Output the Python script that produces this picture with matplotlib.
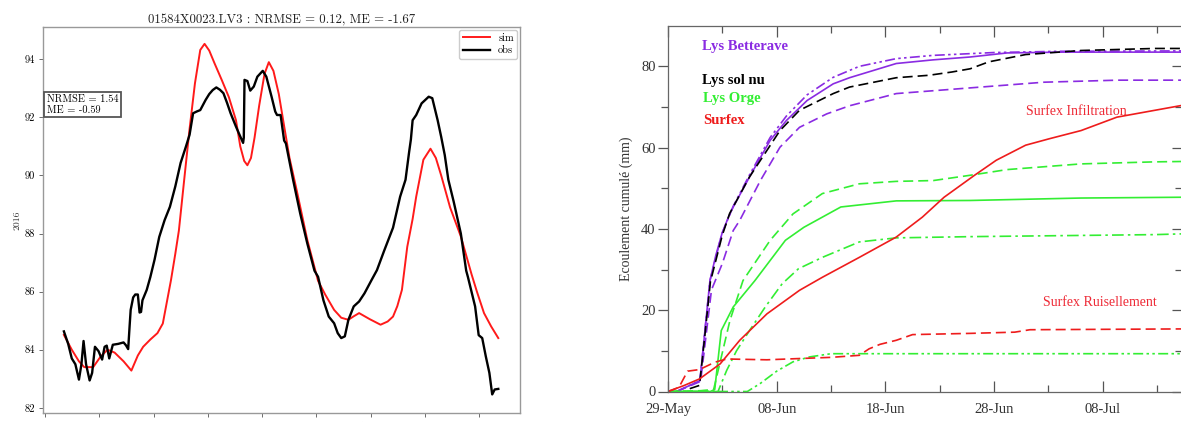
import matplotlib
matplotlib.use("Agg")
import matplotlib.pyplot as plt
import numpy as np

plt.rcParams['axes.unicode_minus'] = False

# ---------------- Left panel data (x in tick units) ----------------
left_title = "01584X0023.LV3 : NRMSE = 0.12, ME = -1.67"
left_ylabel = "2016"
left_yticks = [82, 84, 86, 88, 90, 92, 94]
left_xtick_labels = ["2016-01", "2016-02", "2016-03", "2016-04", "2016-05",
                     "2016-06", "2016-07", "2016-08", "2016-09"]
left_box_text = "NRMSE = 1.54\nME = -0.59"

sim_x = [0.348, 0.493, 0.625, 0.723, 0.888, 1.019, 1.151, 1.282, 1.447, 1.591,
         1.710, 1.808, 1.940, 2.071, 2.170, 2.321, 2.400, 2.466, 2.564, 2.663,
         2.762, 2.860, 2.939, 3.025, 3.123, 3.255, 3.386, 3.518, 3.597, 3.669,
         3.728, 3.794, 3.860, 3.945, 4.044, 4.123, 4.208, 4.307, 4.405, 4.504,
         4.635, 4.833, 5.030, 5.161, 5.326, 5.457, 5.589, 5.687, 5.786, 5.983,
         6.181, 6.312, 6.411, 6.490, 6.575, 6.673, 6.772, 6.838, 6.970, 7.101,
         7.200, 7.298, 7.462, 7.660, 7.857, 7.956, 8.087, 8.219, 8.350]
sim_y = [84.51, 84.0, 83.6, 83.4, 83.4, 83.75, 84.0, 83.9, 83.6, 83.28,
         83.8, 84.1, 84.35, 84.57, 84.9, 86.4, 87.3, 88.1, 89.85, 91.6,
         93.17, 94.32, 94.53, 94.3, 93.86, 93.29, 92.7, 91.9, 91.0, 90.5,
         90.35, 90.6, 91.3, 92.4, 93.5, 93.9, 93.6, 92.8, 91.7, 90.6,
         89.5, 87.77, 86.37, 85.9, 85.37, 85.1, 85.03, 85.15, 85.26, 85.05,
         84.86, 84.97, 85.14, 85.5, 86.06, 87.54, 88.5, 89.27, 90.54, 90.92,
         90.6, 90.0, 88.9, 87.9, 86.6, 86.0, 85.26, 84.8, 84.4]

obs_x = [0.348, 0.427, 0.493, 0.559, 0.625, 0.671, 0.710, 0.756, 0.822, 0.868,
         0.920, 0.986, 1.052, 1.098, 1.137, 1.183, 1.249, 1.348, 1.447, 1.492,
         1.532, 1.558, 1.578, 1.624, 1.663, 1.710, 1.742, 1.769, 1.795, 1.874,
         1.940, 2.018, 2.104, 2.203, 2.301, 2.400, 2.498, 2.597, 2.663, 2.728,
         2.794, 2.860, 2.959, 3.025, 3.090, 3.156, 3.222, 3.287, 3.353, 3.419,
         3.518, 3.583, 3.649, 3.662, 3.675, 3.728, 3.781, 3.846, 3.912, 4.011,
         4.077, 4.175, 4.241, 4.274, 4.340, 4.405, 4.438, 4.570, 4.701, 4.833,
         4.964, 5.030, 5.129, 5.227, 5.326, 5.392, 5.457, 5.523, 5.589, 5.687,
         5.786, 5.885, 6.016, 6.115, 6.246, 6.411, 6.542, 6.641, 6.707, 6.740,
         6.772, 6.838, 6.937, 7.068, 7.134, 7.233, 7.298, 7.364, 7.430, 7.528,
         7.660, 7.759, 7.791, 7.923, 7.989, 8.054, 8.120, 8.186, 8.238, 8.284,
         8.350]
obs_y = [84.63, 84.2, 83.7, 83.5, 82.97, 83.5, 84.3, 83.5, 82.94, 83.2,
         84.1, 83.95, 83.66, 84.1, 84.14, 83.7, 84.17, 84.2, 84.25, 84.15,
         84.02, 84.8, 85.37, 85.8, 85.9, 85.9, 85.28, 85.3, 85.7, 86.06,
         86.5, 87.1, 87.88, 88.46, 88.92, 89.62, 90.43, 91.0, 91.4, 92.14,
         92.2, 92.25, 92.6, 92.8, 92.94, 93.03, 92.95, 92.83, 92.5, 92.14,
         91.68, 91.4, 91.12, 91.3, 93.29, 93.25, 92.92, 93.06, 93.4, 93.6,
         93.4, 92.7, 92.2, 92.08, 92.08, 91.2, 91.1, 89.85, 88.69, 87.65,
         86.72, 86.51, 85.7, 85.14, 84.91, 84.57, 84.4, 84.46, 85.03, 85.49,
         85.66, 85.94, 86.4, 86.74, 87.4, 88.2, 89.27, 89.85, 90.8, 91.24,
         91.9, 92.08, 92.48, 92.71, 92.66, 91.9, 91.33, 90.7, 89.85, 89.1,
         88.0, 86.72, 86.5, 85.49, 84.5, 84.4, 83.77, 83.2, 82.46, 82.63,
         82.65]

# ---------------- Right panel data (x in days since 29-May) ----------------
right_xtick_labels = ["29-May", "08-Jun", "18-Jun", "28-Jun", "08-Jul"]
right_ylabel = "Ecoulement cumulé (mm)"

bet_solid_d = [0.8, 2.0, 2.94, 3.4, 3.86, 4.4, 4.97, 5.5, 6.0, 7.5, 9.4, 10.9,
               12.8, 15.2, 16.7, 21, 24.4, 27.8, 31.2, 36.3, 47.5]
bet_solid_v = [0, 1.5, 2.7, 15, 27.3, 33.5, 38.9, 42.5, 45.4, 52.8, 61.8, 66.7,
               71.6, 75.7, 77.2, 80.7, 81.6, 82.3, 83.3, 83.5, 83.5]

bet_dd_d = [0.8, 2.94, 3.86, 4.97, 6.0, 7.5, 9.4, 10.9, 12.8, 15.2, 17.6, 21,
            24.4, 30, 36, 47.5]
bet_dd_v = [0, 2.7, 27.3, 38.9, 45.6, 53.3, 62.5, 67.8, 73, 77.3, 80, 81.9,
            82.7, 83.4, 83.7, 83.8]

bet_dash_d = [0.8, 3.0, 4.0, 5.0, 6.0, 6.6, 8.5, 10.3, 12.1, 14.6, 16.7, 21,
              27.8, 34.6, 41.4, 47.5]
bet_dash_v = [0, 2.5, 25, 31.5, 39.6, 42.1, 51.9, 60.1, 65, 68.3, 70.3, 73.3,
              74.7, 76.1, 76.6, 76.6]

solnu_d = [2.0, 2.9, 3.4, 3.9, 5.0, 5.67, 7.5, 10.3, 12.1, 15.2, 16.7, 21, 24,
           26.1, 27.8, 29.5, 32.9, 38, 44.8, 47.5]
solnu_v = [0.7, 1.5, 14, 27, 38.5, 43.8, 52.8, 64.2, 69.2, 73.3, 74.9, 77.2,
           77.8, 78.6, 79.4, 81.1, 82.9, 83.9, 84.4, 84.4]

orge_solid_d = [0, 3.9, 4.3, 4.9, 6.0, 8.0, 10.8, 12.5, 15.9, 21, 27.8, 38, 47.5]
orge_solid_v = [0, 0, 0.5, 15, 20.8, 27.3, 37.2, 40.4, 45.4, 46.9, 47.0, 47.6, 47.8]

orge_dash_d = [0, 3.0, 4.2, 5.7, 6.9, 9.4, 11.5, 14.2, 17.6, 21, 24.4, 27.8,
               31.2, 38, 44.8, 47.5]
orge_dash_v = [0, 0.2, 0.5, 17.5, 27.3, 37.2, 43.7, 48.7, 51.1, 51.7, 51.9,
               53.2, 54.6, 56, 56.5, 56.6]

orge_dashdot_d = [0, 4.6, 5.4, 6.3, 7.5, 9.0, 10.5, 12.0, 14.2, 17.6, 21, 27.8,
                  44.8, 47.5]
orge_dashdot_v = [0, 0, 5.2, 10, 15, 21, 26.5, 30.2, 33, 36.8, 37.8, 38.1,
                  38.6, 38.8]

orge_ddd_d = [0, 7.3, 8.5, 10, 11.5, 13, 15, 47.5]
orge_ddd_v = [0, 0, 2, 5, 7.3, 8.5, 9.3, 9.3]

surf_inf_d = [0, 1.5, 2.9, 4.8, 6.6, 9.1, 12.1, 14.2, 17.6, 21, 23.4, 25.4,
              28.2, 30.2, 32.9, 35.1, 38, 41.3, 47.5]
surf_inf_v = [0, 1.5, 3.1, 6.8, 12.6, 19.1, 24.9, 28.1, 33.0, 38, 42.9, 47.8,
              53.2, 56.9, 60.6, 62.2, 64.2, 67.5, 70.5]

surf_ruis_d = [0, 1.0, 1.8, 2.9, 4.3, 5.4, 9.1, 12, 15, 17.6, 18.5, 19.5, 21,
               22.5, 27.8, 31.9, 33.3, 47.5]
surf_ruis_v = [0, 1, 5, 5.4, 7.2, 8, 7.8, 8.1, 8.4, 8.9, 10.5, 11.6, 12.6, 14,
               14.3, 14.6, 15.2, 15.4]

# ---------------- Figure ----------------
W, H = 1181, 422
fig = plt.figure(figsize=(W / 100, H / 100), dpi=100)

# ---- Left panel ----
axL = fig.add_axes([43 / W, (H - 413.3) / H, (520 - 43) / W, (413.3 - 27.3) / H])
cm = 'cmr10'
axL.plot(sim_x, sim_y, color='#ff1a1a', lw=1.4, label='sim')
axL.plot(obs_x, obs_y, color='black', lw=1.7, label='obs')
axL.set_xlim(-0.037, 8.75)
axL.set_ylim(81.81, 95.1)
axL.set_yticks(left_yticks)
axL.set_yticklabels([str(v) for v in left_yticks], fontfamily=cm, fontsize=7.5)
axL.set_xticks(range(len(left_xtick_labels)))
axL.set_xticklabels(left_xtick_labels, fontfamily=cm, fontsize=7.5, rotation=30, ha='right')
axL.tick_params(length=3, width=0.6, color='#555555', pad=3)
for s in axL.spines.values():
    s.set_color('#999999')
    s.set_linewidth(1.0)
axL.set_title(left_title, fontfamily=cm, fontsize=9.2, pad=3, color='#222222')
axL.set_ylabel(left_ylabel, fontfamily=cm, fontsize=7, labelpad=2, color='#333333')
leg = axL.legend(loc='upper right', prop={'family': cm, 'size': 7.5}, frameon=True,
                 borderaxespad=0.25, handlelength=2.6, fancybox=True, framealpha=1,
                 borderpad=0.35, labelspacing=0.25)
leg.get_frame().set_edgecolor('#cccccc')
axL.text(0.008, 0.80, left_box_text, transform=axL.transAxes, fontfamily=cm,
         fontsize=7.5, va='center', ha='left', linespacing=1.15,
         bbox=dict(boxstyle='square,pad=0.25', fc='white', ec='#555555', lw=1.3))

# ---- Right panel ----
x0R, x1R = 668, 1181.5
axR = fig.add_axes([x0R / W, (H - 391.5) / H, (x1R - x0R) / W, (391.5 - 25.7) / H])
purple = '#8a2be2'
green = '#33ee33'
red = '#ee1c1c'
lw = 1.2
axR.plot(bet_solid_d, bet_solid_v, color=purple, lw=lw)
axR.plot(bet_dd_d, bet_dd_v, color=purple, lw=lw, dashes=(6, 2, 1.5, 2, 1.5, 2))
axR.plot(bet_dash_d, bet_dash_v, color=purple, lw=lw, dashes=(6, 3))
axR.plot(solnu_d, solnu_v, color='black', lw=lw, dashes=(6, 3))
axR.plot(orge_solid_d, orge_solid_v, color=green, lw=lw)
axR.plot(orge_dash_d, orge_dash_v, color=green, lw=lw, dashes=(6, 3))
axR.plot(orge_dashdot_d, orge_dashdot_v, color=green, lw=lw, dashes=(7, 2.5, 1.5, 2.5))
axR.plot(orge_ddd_d, orge_ddd_v, color=green, lw=lw, dashes=(6, 2, 1.5, 2, 1.5, 2))
axR.plot(surf_inf_d, surf_inf_v, color=red, lw=lw)
axR.plot(surf_ruis_d, surf_ruis_v, color=red, lw=lw, dashes=(6, 3))

axR.set_xlim(0, (x1R - x0R) / 10.87)
axR.set_ylim(0, 90)
axR.set_xticks([0, 10, 20, 30, 40])
axR.set_xticklabels(right_xtick_labels)
axR.set_xticks([5, 15, 25, 35, 45], minor=True)
axR.set_yticks([0, 20, 40, 60, 80])
axR.set_yticks([10, 30, 50, 70], minor=True)
serif = 'Liberation Serif'
for lab in axR.get_xticklabels() + axR.get_yticklabels():
    lab.set_fontfamily(serif)
    lab.set_fontsize(10.5)
    lab.set_color('#333333')
axR.tick_params(axis='x', which='both', direction='in', top=True, color='#555555')
axR.tick_params(axis='x', which='major', length=8, width=0.9, pad=8)
axR.tick_params(axis='x', which='minor', length=5, width=0.9)
axR.tick_params(axis='y', which='major', direction='out', length=7, width=0.9,
                color='#555555', pad=2)
axR.tick_params(axis='y', which='minor', direction='out', length=5, width=0.9,
                color='#555555')
sec = axR.secondary_yaxis('right')
sec.set_yticks([0, 20, 40, 60, 80])
sec.set_yticks([10, 30, 50, 70], minor=True)
sec.tick_params(axis='y', which='both', direction='in', labelright=False,
                color='#555555', width=0.9)
sec.tick_params(axis='y', which='major', length=7)
sec.tick_params(axis='y', which='minor', length=5)
for s in list(axR.spines.values()) + list(sec.spines.values()):
    s.set_color('#666666')
    s.set_linewidth(0.9)
axR.set_ylabel(right_ylabel, fontfamily=serif, fontsize=10, color='#333333', labelpad=6)

axR.text(0.0656, 0.9426, "Lys Betterave", transform=axR.transAxes, color=purple,
         fontfamily=serif, fontweight='bold', fontsize=10.5, va='center', ha='left')
axR.text(0.0656, 0.849, "Lys sol nu", transform=axR.transAxes, color='black',
         fontfamily=serif, fontweight='bold', fontsize=10.5, va='center', ha='left')
axR.text(0.068, 0.800, "Lys Orge", transform=axR.transAxes, color=green,
         fontfamily=serif, fontweight='bold', fontsize=10.5, va='center', ha='left')
axR.text(0.068, 0.740, "Surfex", transform=axR.transAxes, color=red,
         fontfamily=serif, fontweight='bold', fontsize=10.5, va='center', ha='left')
axR.text(32.9, 68.8, "Surfex Infiltration", color='#ee2a36', fontfamily=serif,
         fontsize=10, va='center', ha='left')
axR.text(34.5, 21.8, "Surfex Ruisellement", color='#ee2a36', fontfamily=serif,
         fontsize=10, va='center', ha='left')

fig.savefig("out.png", dpi=100)
